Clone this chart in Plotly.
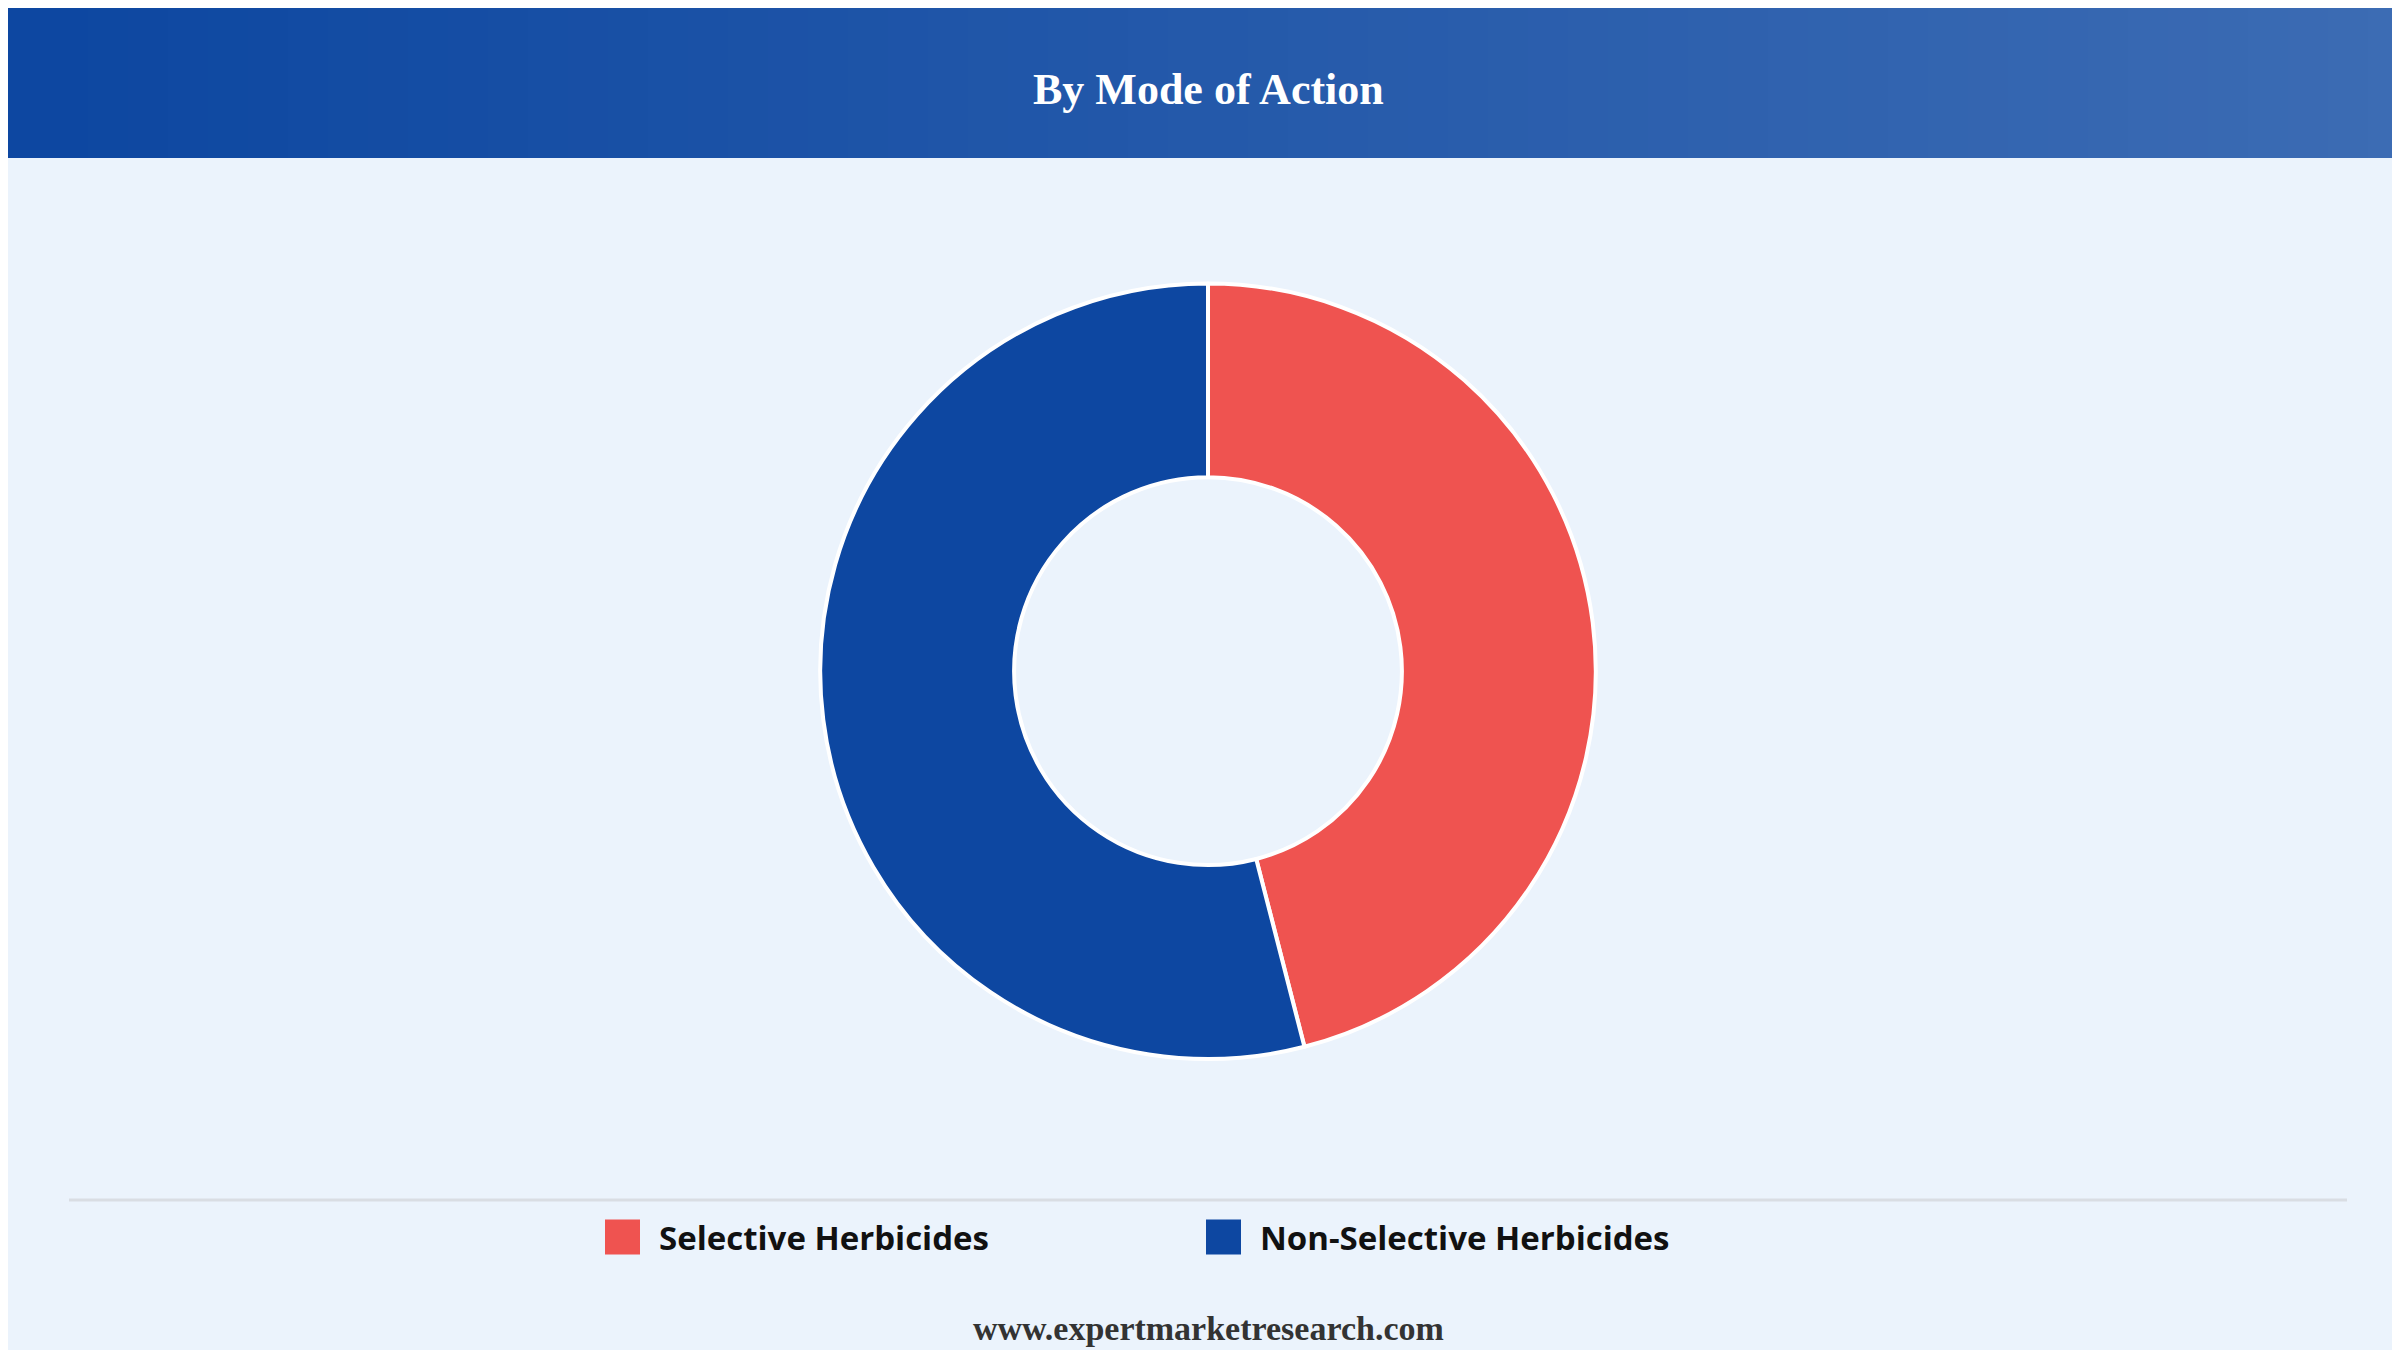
import plotly.graph_objects as go

labels = ["Selective Herbicides", "Non-Selective Herbicides"]
values = [46, 54]
colors = ["#ef5350", "#0d47a1"]

W, H = 2400, 1350
fig = go.Figure()
fig.add_trace(go.Pie(labels=labels, values=values, hole=0.5, sort=False,
                     direction="clockwise", rotation=0, textinfo="none",
                     marker=dict(colors=colors, line=dict(color="white", width=4)),
                     domain=dict(x=[0.3, 0.7], y=[0.2215, 0.796]), hoverinfo="label+percent",
                     showlegend=False))

shapes = []
n = 60
c0 = (13, 71, 161); c1 = (60, 108, 180)
for i in range(n):
    t = i / (n - 1)
    col = "rgb(%d,%d,%d)" % tuple(int(a + (b - a) * t) for a, b in zip(c0, c1))
    shapes.append(dict(type="rect", xref="paper", yref="paper", x0=i / n, x1=(i + 1) / n + 0.002,
                       y0=1 - 150 / H, y1=1, fillcolor=col, line=dict(width=0), layer="below"))
shapes.append(dict(type="line", xref="paper", yref="paper", x0=61 / W, x1=2339 / W,
                   y0=1 - 1192 / H, y1=1 - 1192 / H, line=dict(color="#d9dde3", width=3)))

annotations = [
    dict(text="<b>By Mode of Action</b>", x=0.5, y=1 - 81 / H, xref="paper", yref="paper",
         xanchor="center", yanchor="middle",
         showarrow=False, font=dict(family="Liberation Serif", size=44, color="white")),
    dict(text="<b>www.expertmarketresearch.com</b>", x=0.5, y=1 - 1320 / H, xref="paper", yref="paper",
         xanchor="center", yanchor="middle",
         showarrow=False, font=dict(family="Liberation Serif", size=34, color="#333")),
]
leg_x = [597, 1198]
yc = 1229
for lab, col, lx in zip(labels, colors, leg_x):
    shapes.append(dict(type="rect", xref="paper", yref="paper", x0=lx / W, x1=(lx + 35) / W,
                       y0=1 - (yc + 17.5) / H, y1=1 - (yc - 17.5) / H, fillcolor=col,
                       line=dict(width=0)))
    annotations.append(dict(text=lab, x=(lx + 52) / W, y=1 - yc / H, xref="paper", yref="paper",
                            xanchor="left", yanchor="middle", showarrow=False,
                            font=dict(family="Open Sans", size=33, color="#111", weight=700)))

fig.update_layout(
    width=W, height=H, margin=dict(l=0, r=0, t=0, b=0),
    paper_bgcolor="#ebf3fc", plot_bgcolor="#ebf3fc", shapes=shapes,
    annotations=annotations, showlegend=False,
)
fig.write_html("out.html")
